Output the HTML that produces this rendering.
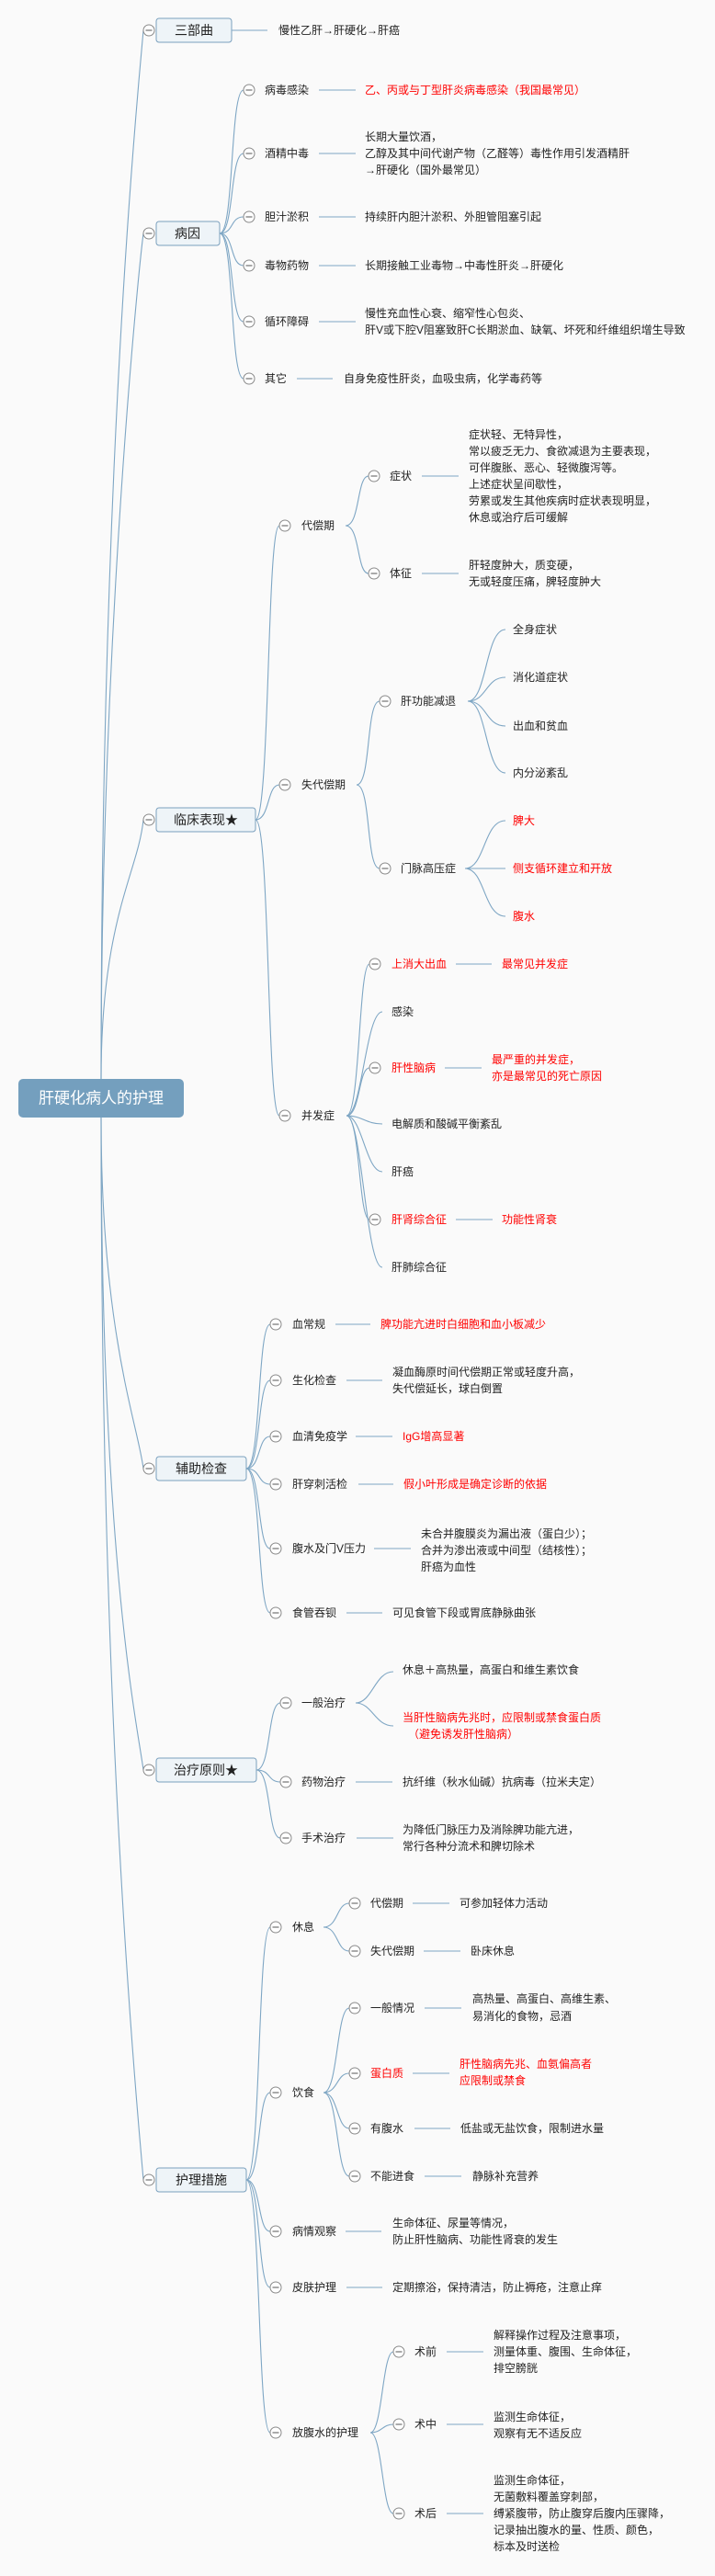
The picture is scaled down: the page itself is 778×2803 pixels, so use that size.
<!DOCTYPE html>
<html><head><meta charset="utf-8"><style>
html,body{margin:0;padding:0;background:#fafafa;}
svg{display:block;}
text{font-family:"Liberation Sans","Noto Sans CJK SC",sans-serif;font-size:12px;fill:#222;dominant-baseline:central;}
.r{fill:#ff0000;}
.b{font-size:14px;}
.root{font-size:17px;fill:#fff;}
.l{fill:none;stroke:#7ea6c4;stroke-width:1.1;}
</style></head><body>
<svg width="778" height="2803" viewBox="0 0 778 2803" xmlns="http://www.w3.org/2000/svg">
<defs>
<symbol id="c" viewBox="-7 -7 14 14" width="14" height="14" overflow="visible">
<circle cx="0" cy="0" r="6" fill="#fff" stroke="#8a8a8a" stroke-width="1"/>
<line x1="-3.5" y1="0" x2="3.5" y2="0" stroke="#555" stroke-width="1"/>
</symbol>
</defs>

<!-- root connectors -->
<path class="l" d="M110,1174 C110,500 150,100 156,33"/>
<path class="l" d="M110,1174 C110,700 150,300 156,254"/>
<path class="l" d="M110,1174 C110,1000 150,950 156,892"/>
<path class="l" d="M110,1216 C110,1450 150,1550 156,1598"/>
<path class="l" d="M110,1216 C110,1700 150,1880 156,1926"/>
<path class="l" d="M110,1216 C110,1900 150,2300 156,2372"/>

<!-- root -->
<rect x="20" y="1174" width="180" height="42" rx="5" fill="#749fbe"/>
<text class="root" x="110" y="1195" text-anchor="middle">肝硬化病人的护理</text>

<!-- level1 boxes -->
<g fill="#eef4f8" stroke="#7aa0bd" stroke-width="1">
<rect x="170" y="20" width="82" height="26" rx="3"/>
<rect x="170" y="241" width="69" height="26" rx="3"/>
<rect x="170" y="879" width="108" height="26" rx="3"/>
<rect x="170" y="1585" width="98" height="26" rx="3"/>
<rect x="170" y="1913" width="109" height="26" rx="3"/>
<rect x="170" y="2359" width="98" height="26" rx="3"/>
</g>
<text class="b" x="211" y="33" text-anchor="middle">三部曲</text>
<text class="b" x="204" y="254" text-anchor="middle">病因</text>
<text class="b" x="224" y="892" text-anchor="middle">临床表现★</text>
<text class="b" x="219" y="1598" text-anchor="middle">辅助检查</text>
<text class="b" x="224" y="1926" text-anchor="middle">治疗原则★</text>
<text class="b" x="219" y="2372" text-anchor="middle">护理措施</text>
<use href="#c" x="155" y="26"/><use href="#c" x="155" y="247"/><use href="#c" x="155" y="885"/>
<use href="#c" x="155" y="1591"/><use href="#c" x="155" y="1919"/><use href="#c" x="155" y="2365"/>

<!-- 三部曲 -->
<line class="l" x1="252" y1="33" x2="291" y2="33"/>
<text x="303" y="33">慢性乙肝→肝硬化→肝癌</text>

<!-- 病因 -->
<path class="l" d="M239,254 C255,254 250,98 265,98"/>
<path class="l" d="M239,254 C255,254 250,167 265,167"/>
<path class="l" d="M239,254 C255,254 250,236 265,236"/>
<path class="l" d="M239,254 C255,254 250,289 265,289"/>
<path class="l" d="M239,254 C255,254 250,350 265,350"/>
<path class="l" d="M239,254 C255,254 250,412 265,412"/>
<use href="#c" x="264" y="91"/><use href="#c" x="264" y="160"/><use href="#c" x="264" y="229"/>
<use href="#c" x="264" y="282"/><use href="#c" x="264" y="343"/><use href="#c" x="264" y="405"/>
<text x="288" y="98">病毒感染</text>
<text x="288" y="167">酒精中毒</text>
<text x="288" y="236">胆汁淤积</text>
<text x="288" y="289">毒物药物</text>
<text x="288" y="350">循环障碍</text>
<text x="288" y="412">其它</text>
<line class="l" x1="347" y1="98" x2="387" y2="98"/>
<line class="l" x1="347" y1="167" x2="387" y2="167"/>
<line class="l" x1="347" y1="236" x2="387" y2="236"/>
<line class="l" x1="347" y1="289" x2="387" y2="289"/>
<line class="l" x1="347" y1="350" x2="387" y2="350"/>
<line class="l" x1="323" y1="412" x2="362" y2="412"/>
<text class="r" x="397" y="98">乙、丙或与丁型肝炎病毒感染（我国最常见）</text>
<text x="397" y="149">长期大量饮酒，</text>
<text x="397" y="167">乙醇及其中间代谢产物（乙醛等）毒性作用引发酒精肝</text>
<text x="397" y="185">→肝硬化（国外最常见）</text>
<text x="397" y="236">持续肝内胆汁淤积、外胆管阻塞引起</text>
<text x="397" y="289">长期接触工业毒物→中毒性肝炎→肝硬化</text>
<text x="397" y="341">慢性充血性心衰、缩窄性心包炎、</text>
<text x="397" y="359">肝V或下腔V阻塞致肝C长期淤血、缺氧、坏死和纤维组织增生导致</text>
<text x="374" y="412">自身免疫性肝炎，血吸虫病，化学毒药等</text>

<!-- 临床表现 -->
<path class="l" d="M278,892 C294,892 290,572 304,572"/>
<path class="l" d="M278,892 C294,892 290,854 304,854"/>
<path class="l" d="M278,892 C294,892 290,1214 304,1214"/>
<use href="#c" x="303" y="565"/><use href="#c" x="303" y="847"/><use href="#c" x="303" y="1207"/>
<text x="328" y="572">代偿期</text>
<text x="328" y="854">失代偿期</text>
<text x="328" y="1214">并发症</text>

<!-- 代偿期 -->
<path class="l" d="M376,572 C392,572 388,518 401,518"/>
<path class="l" d="M376,572 C392,572 388,624 401,624"/>
<use href="#c" x="400" y="511"/><use href="#c" x="400" y="617"/>
<text x="424" y="518">症状</text>
<text x="424" y="624">体征</text>
<line class="l" x1="459" y1="518" x2="499" y2="518"/>
<line class="l" x1="459" y1="624" x2="499" y2="624"/>
<text x="510" y="473">症状轻、无特异性，</text>
<text x="510" y="491">常以疲乏无力、食欲减退为主要表现，</text>
<text x="510" y="509">可伴腹胀、恶心、轻微腹泻等。</text>
<text x="510" y="527">上述症状呈间歇性，</text>
<text x="510" y="545">劳累或发生其他疾病时症状表现明显，</text>
<text x="510" y="563">休息或治疗后可缓解</text>
<text x="510" y="615">肝轻度肿大，质变硬，</text>
<text x="510" y="633">无或轻度压痛，脾轻度肿大</text>

<!-- 失代偿期 -->
<path class="l" d="M388,854 C404,854 398,763 413,763"/>
<path class="l" d="M388,854 C404,854 398,945 413,945"/>
<use href="#c" x="412" y="756"/><use href="#c" x="412" y="938"/>
<text x="436" y="763">肝功能减退</text>
<text x="436" y="945">门脉高压症</text>
<path class="l" d="M509,763 C530,763 528,685 550,685"/>
<path class="l" d="M509,763 C530,763 528,737 550,737"/>
<path class="l" d="M509,763 C530,763 528,790 550,790"/>
<path class="l" d="M509,763 C530,763 528,841 550,841"/>
<text x="558" y="685">全身症状</text>
<text x="558" y="737">消化道症状</text>
<text x="558" y="790">出血和贫血</text>
<text x="558" y="841">内分泌紊乱</text>
<path class="l" d="M506,945 C528,945 526,893 550,893"/>
<path class="l" d="M506,945 L550,945"/>
<path class="l" d="M506,945 C528,945 526,997 550,997"/>
<text class="r" x="558" y="893">脾大</text>
<text class="r" x="558" y="945">侧支循环建立和开放</text>
<text class="r" x="558" y="997">腹水</text>

<!-- 并发症 -->
<path class="l" d="M377,1214 C392,1214 390,1049 402,1049"/>
<path class="l" d="M377,1214 C394,1214 398,1101 416,1101"/>
<path class="l" d="M377,1214 C392,1214 390,1162 402,1162"/>
<path class="l" d="M377,1214 C394,1214 398,1223 416,1223"/>
<path class="l" d="M377,1214 C394,1214 398,1275 416,1275"/>
<path class="l" d="M377,1214 C392,1214 390,1327 402,1327"/>
<path class="l" d="M377,1214 C394,1214 398,1379 416,1379"/>
<use href="#c" x="401" y="1042"/><use href="#c" x="401" y="1155"/><use href="#c" x="401" y="1320"/>
<text class="r" x="426" y="1049">上消大出血</text>
<text x="426" y="1101">感染</text>
<text class="r" x="426" y="1162">肝性脑病</text>
<text x="426" y="1223">电解质和酸碱平衡紊乱</text>
<text x="426" y="1275">肝癌</text>
<text class="r" x="426" y="1327">肝肾综合征</text>
<text x="426" y="1379">肝肺综合征</text>
<line class="l" x1="496" y1="1049" x2="535" y2="1049"/>
<line class="l" x1="484" y1="1162" x2="524" y2="1162"/>
<line class="l" x1="496" y1="1327" x2="536" y2="1327"/>
<text class="r" x="546" y="1049">最常见并发症</text>
<text class="r" x="535" y="1153">最严重的并发症，</text>
<text class="r" x="535" y="1171">亦是最常见的死亡原因</text>
<text class="r" x="546" y="1327">功能性肾衰</text>

<!-- 辅助检查 -->
<path class="l" d="M268,1598 C284,1598 280,1441 294,1441"/>
<path class="l" d="M268,1598 C284,1598 280,1502 294,1502"/>
<path class="l" d="M268,1598 C284,1598 280,1563 294,1563"/>
<path class="l" d="M268,1598 C284,1598 280,1615 294,1615"/>
<path class="l" d="M268,1598 C284,1598 280,1685 294,1685"/>
<path class="l" d="M268,1598 C284,1598 280,1755 294,1755"/>
<use href="#c" x="293" y="1434"/><use href="#c" x="293" y="1495"/><use href="#c" x="293" y="1556"/>
<use href="#c" x="293" y="1608"/><use href="#c" x="293" y="1678"/><use href="#c" x="293" y="1748"/>
<text x="318" y="1441">血常规</text>
<text x="318" y="1502">生化检查</text>
<text x="318" y="1563">血清免疫学</text>
<text x="318" y="1615">肝穿刺活检</text>
<text x="318" y="1685">腹水及门V压力</text>
<text x="318" y="1755">食管吞钡</text>
<line class="l" x1="365" y1="1441" x2="403" y2="1441"/>
<line class="l" x1="377" y1="1502" x2="416" y2="1502"/>
<line class="l" x1="387" y1="1563" x2="427" y2="1563"/>
<line class="l" x1="390" y1="1615" x2="428" y2="1615"/>
<line class="l" x1="407" y1="1685" x2="447" y2="1685"/>
<line class="l" x1="377" y1="1755" x2="416" y2="1755"/>
<text class="r" x="414" y="1441">脾功能亢进时白细胞和血小板减少</text>
<text x="427" y="1493">凝血酶原时间代偿期正常或轻度升高，</text>
<text x="427" y="1511">失代偿延长，球白倒置</text>
<text class="r" x="438" y="1563">IgG增高显著</text>
<text class="r" x="439" y="1615">假小叶形成是确定诊断的依据</text>
<text x="458" y="1669">未合并腹膜炎为漏出液（蛋白少）；</text>
<text x="458" y="1687">合并为渗出液或中间型（结核性）；</text>
<text x="458" y="1705">肝癌为血性</text>
<text x="427" y="1755">可见食管下段或胃底静脉曲张</text>

<!-- 治疗原则 -->
<path class="l" d="M279,1926 C295,1926 291,1853 305,1853"/>
<path class="l" d="M279,1926 C295,1926 291,1939 305,1939"/>
<path class="l" d="M279,1926 C295,1926 291,2000 305,2000"/>
<use href="#c" x="304" y="1846"/><use href="#c" x="304" y="1932"/><use href="#c" x="304" y="1993"/>
<text x="328" y="1853">一般治疗</text>
<text x="328" y="1939">药物治疗</text>
<text x="328" y="2000">手术治疗</text>
<path class="l" d="M387,1853 C405,1853 408,1819 428,1819"/>
<path class="l" d="M387,1853 C405,1853 408,1878 428,1878"/>
<text x="438" y="1817">休息＋高热量，高蛋白和维生素饮食</text>
<text class="r" x="438" y="1869">当肝性脑病先兆时，应限制或禁食蛋白质</text>
<text class="r" x="444" y="1887">（避免诱发肝性脑病）</text>
<line class="l" x1="387" y1="1939" x2="427" y2="1939"/>
<line class="l" x1="388" y1="2000" x2="428" y2="2000"/>
<text x="438" y="1939">抗纤维（秋水仙碱）抗病毒（拉米夫定）</text>
<text x="438" y="1991">为降低门脉压力及消除脾功能亢进，</text>
<text x="438" y="2009">常行各种分流术和脾切除术</text>

<!-- 护理措施 -->
<path class="l" d="M268,2372 C284,2372 280,2097 294,2097"/>
<path class="l" d="M268,2372 C284,2372 280,2277 294,2277"/>
<path class="l" d="M268,2372 C284,2372 280,2428 294,2428"/>
<path class="l" d="M268,2372 C284,2372 280,2489 294,2489"/>
<path class="l" d="M268,2372 C284,2372 280,2647 294,2647"/>
<use href="#c" x="293" y="2090"/><use href="#c" x="293" y="2270"/><use href="#c" x="293" y="2421"/>
<use href="#c" x="293" y="2482"/><use href="#c" x="293" y="2640"/>
<text x="318" y="2097">休息</text>
<text x="318" y="2277">饮食</text>
<text x="318" y="2428">病情观察</text>
<text x="318" y="2489">皮肤护理</text>
<text x="318" y="2647">放腹水的护理</text>

<!-- 休息 -->
<path class="l" d="M352,2097 C368,2097 366,2071 380,2071"/>
<path class="l" d="M352,2097 C368,2097 366,2123 380,2123"/>
<use href="#c" x="379" y="2064"/><use href="#c" x="379" y="2116"/>
<text x="403" y="2071">代偿期</text>
<text x="403" y="2123">失代偿期</text>
<line class="l" x1="449" y1="2071" x2="489" y2="2071"/>
<line class="l" x1="461" y1="2123" x2="501" y2="2123"/>
<text x="500" y="2071">可参加轻体力活动</text>
<text x="512" y="2123">卧床休息</text>

<!-- 饮食 -->
<path class="l" d="M352,2277 C368,2277 366,2185 380,2185"/>
<path class="l" d="M352,2277 C368,2277 366,2256 380,2256"/>
<path class="l" d="M352,2277 C368,2277 366,2316 380,2316"/>
<path class="l" d="M352,2277 C368,2277 366,2368 380,2368"/>
<use href="#c" x="379" y="2178"/><use href="#c" x="379" y="2249"/><use href="#c" x="379" y="2309"/><use href="#c" x="379" y="2361"/>
<text x="403" y="2185">一般情况</text>
<text class="r" x="403" y="2256">蛋白质</text>
<text x="403" y="2316">有腹水</text>
<text x="403" y="2368">不能进食</text>
<line class="l" x1="462" y1="2185" x2="502" y2="2185"/>
<line class="l" x1="449" y1="2256" x2="489" y2="2256"/>
<line class="l" x1="451" y1="2316" x2="490" y2="2316"/>
<line class="l" x1="462" y1="2368" x2="502" y2="2368"/>
<text x="514" y="2175">高热量、高蛋白、高维生素、</text>
<text x="514" y="2194">易消化的食物，忌酒</text>
<text class="r" x="500" y="2246">肝性脑病先兆、血氨偏高者</text>
<text class="r" x="500" y="2264">应限制或禁食</text>
<text x="501" y="2316">低盐或无盐饮食，限制进水量</text>
<text x="514" y="2368">静脉补充营养</text>

<!-- 病情观察 / 皮肤护理 -->
<line class="l" x1="376" y1="2428" x2="415" y2="2428"/>
<line class="l" x1="377" y1="2489" x2="416" y2="2489"/>
<text x="427" y="2419">生命体征、尿量等情况，</text>
<text x="427" y="2437">防止肝性脑病、功能性肾衰的发生</text>
<text x="427" y="2489">定期擦浴，保持清洁，防止褥疮，注意止痒</text>

<!-- 放腹水的护理 -->
<path class="l" d="M403,2647 C416,2647 416,2559 428,2559"/>
<path class="l" d="M403,2647 C416,2647 416,2638 428,2638"/>
<path class="l" d="M403,2647 C416,2647 416,2735 428,2735"/>
<use href="#c" x="427" y="2552"/><use href="#c" x="427" y="2631"/><use href="#c" x="427" y="2728"/>
<text x="451" y="2559">术前</text>
<text x="451" y="2638">术中</text>
<text x="451" y="2735">术后</text>
<line class="l" x1="486" y1="2559" x2="526" y2="2559"/>
<line class="l" x1="486" y1="2638" x2="526" y2="2638"/>
<line class="l" x1="486" y1="2735" x2="526" y2="2735"/>
<text x="537" y="2541">解释操作过程及注意事项，</text>
<text x="537" y="2559">测量体重、腹围、生命体征，</text>
<text x="537" y="2577">排空膀胱</text>
<text x="537" y="2630">监测生命体征，</text>
<text x="537" y="2648">观察有无不适反应</text>
<text x="537" y="2699">监测生命体征，</text>
<text x="537" y="2717">无菌敷料覆盖穿刺部，</text>
<text x="537" y="2735">缚紧腹带，防止腹穿后腹内压骤降，</text>
<text x="537" y="2753">记录抽出腹水的量、性质、颜色，</text>
<text x="537" y="2771">标本及时送检</text>
</svg>
</body></html>
